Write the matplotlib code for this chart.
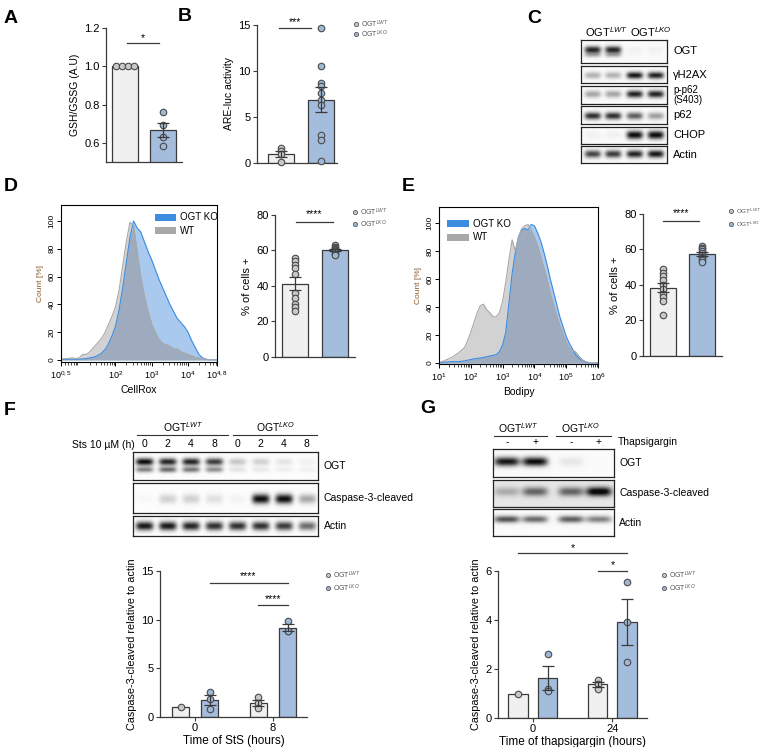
import numpy as np
import matplotlib
matplotlib.use('Agg')
from matplotlib import pyplot as plt
from matplotlib.lines import Line2D
from matplotlib.patches import Rectangle

plt.rcParams['font.family'] = ['Liberation Sans', 'DejaVu Sans']
plt.rcParams['mathtext.fontset'] = 'custom'
plt.rcParams['mathtext.rm'] = 'Liberation Sans'
plt.rcParams['mathtext.it'] = 'Liberation Sans:italic'
plt.rcParams['mathtext.bf'] = 'Liberation Sans:bold'

# ---------------- data ----------------
# A: GSH/GSSG
a_wt = [1.0, 1.0, 1.0, 1.0]
a_ko = [0.76, 0.695, 0.63, 0.585]
# B: ARE-luc
b_wt = [1.6, 1.3, 1.0, 0.1]
b_ko = [14.7, 10.55, 8.75, 8.4, 7.6, 6.9, 6.3, 3.05, 2.45, 0.2]
# D / E: % of cells +
d_wt = [56, 54, 52, 50, 47, 36, 33, 30, 28, 26]
d_ko = [63, 62, 61.5, 61, 60.5, 60, 59.5, 59, 58, 57.5]
e_wt = [49, 47, 45, 43, 40, 38, 35, 33, 31, 23]
e_ko = [62, 61, 60, 59, 58, 57, 56, 55, 54, 53]

# D histogram (CellRox), log10 fluorescence
d_logx = [0.5, 0.6, 0.7, 0.8, 0.9, 1.0, 1.1, 1.2, 1.3, 1.4, 1.5, 1.6, 1.7, 1.8, 1.9,
          2.0, 2.1, 2.2, 2.3, 2.4, 2.5, 2.6, 2.7, 2.8, 2.9, 3.0, 3.1, 3.2, 3.3, 3.4,
          3.5, 3.6, 3.7, 3.8, 3.9, 4.0, 4.1, 4.2, 4.3, 4.4, 4.5, 4.6, 4.7, 4.8]
d_hist_wt = [0.5, 1, 1, 1.5, 1, 1.5, 4, 4, 6, 9, 12, 15, 19, 25, 31,
             38, 50, 68, 85, 99, 97, 78, 60, 46, 35, 26, 20, 15, 12, 11,
             10, 8, 8, 6, 5, 4, 3, 2, 1.5, 1, 0.5, 0, 0, 0]
d_hist_ko = [0, 0.5, 0.5, 0.5, 0.5, 0.5, 0.7, 1, 1.5, 2, 3, 4.5, 7, 11, 17,
             24, 36, 52, 70, 88, 100, 95, 92, 85, 78, 72, 65, 58, 52, 46,
             40, 35, 30, 27, 24, 20, 14, 9, 4, 1.5, 0.5, 0, 0, 0]
# E histogram (Bodipy)
e_logx = [1.0, 1.1, 1.2, 1.3, 1.4, 1.5, 1.6, 1.7, 1.8, 1.9, 2.0, 2.1, 2.2, 2.3, 2.4,
          2.5, 2.6, 2.7, 2.8, 2.9, 3.0, 3.1, 3.2, 3.3, 3.4, 3.5, 3.6, 3.7, 3.8, 3.9,
          4.0, 4.1, 4.2, 4.3, 4.4, 4.5, 4.6, 4.7, 4.8, 4.9, 5.0, 5.1, 5.2, 5.3, 5.4,
          5.5, 5.6, 5.7, 5.8, 5.9, 6.0]
e_hist_wt = [0.5, 1, 2, 3, 4, 5.5, 7, 9, 11, 16, 22, 29, 36, 41, 42,
             38, 36, 33, 33, 36, 44, 58, 74, 88, 80, 90, 96, 98, 99, 95,
             90, 84, 76, 68, 60, 50, 42, 34, 27, 21, 15, 11, 9, 8, 5,
             2.5, 1, 0.5, 0, 0, 0]
e_hist_ko = [0, 0.5, 0.5, 0.8, 1, 1, 1, 1.2, 1.5, 2, 2.5, 3, 3.3, 3.6, 4,
             4.5, 5, 5.5, 6, 8, 13, 22, 43, 64, 79, 90, 95, 96, 95, 99,
             98, 93, 87, 79, 70, 60, 51, 42, 33, 26, 19, 14, 10, 6, 3.5,
             2, 1, 0, 0, 0, 0]

# F: caspase-3 cleaved / actin, StS
f_times = ['0', '8']
f_wt = [[1.0], [2.05, 1.4, 0.9]]
f_ko = [[2.6, 1.9, 0.85], [9.85, 8.8, 8.85]]
# G: thapsigargin
g_times = ['0', '24']
g_wt = [[1.0], [1.55, 1.4, 1.2]]
g_ko = [[2.6, 1.2, 1.1], [5.55, 3.9, 2.3]]

# blot band intensities (0 = none, 1 = saturated)
c_ogt = [0.9, 0.9, 0.04, 0.04]
c_h2ax = [0.3, 0.3, 0.95, 0.9]
c_pp62 = [0.35, 0.35, 0.9, 0.9]
c_p62 = [0.85, 0.85, 0.65, 0.38]
c_chop = [0.04, 0.04, 1.0, 1.0]
c_actin = [0.75, 0.8, 0.9, 0.95]

f_lanes = ['0', '2', '4', '8', '0', '2', '4', '8']
f_ogt_up = [1.0, 0.9, 0.9, 0.8, 0.22, 0.18, 0.1, 0.05]
f_ogt_lo = [0.5, 0.6, 0.55, 0.45, 0.1, 0.08, 0.06, 0.05]
f_casp = [0.02, 0.18, 0.18, 0.12, 0.04, 1.0, 1.0, 0.35]
f_actin = [0.95, 0.95, 0.9, 0.85, 0.85, 0.85, 0.8, 0.6]

g_lanes = ['-', '+', '-', '+']
g_ogt = [0.95, 1.0, 0.08, 0.0]
g_casp = [0.25, 0.55, 0.55, 1.0]
g_actin = [0.7, 0.6, 0.65, 0.5]

WT_LBL = 'OGT$^{LWT}$'
KO_LBL = 'OGT$^{LKO}$'

# ---------------- style ----------------
WT_FILL, KO_FILL = '#f0f0f0', '#a4bddd'
WT_PT, KO_PT = '#c8c8c8', '#9fb8d8'
EDGE = '#3a3a3a'

W, H = 763, 747
fig = plt.figure(figsize=(W / 100, H / 100), dpi=100)


def px_axes(x0, y0, x1, y1):
    return fig.add_axes([x0 / W, 1 - y1 / H, (x1 - x0) / W, (y1 - y0) / H])


def ftext(x, y, s, **kw):
    fig.text(x / W, 1 - y / H, s, **kw)


def panel(x, y, s):
    ftext(x, y, s, fontsize=14, fontweight='bold', va='top', ha='left')


def style_bar_axes(ax):
    for sp in ['top', 'right']:
        ax.spines[sp].set_visible(False)
    for sp in ['left', 'bottom']:
        ax.spines[sp].set_color(EDGE)
        ax.spines[sp].set_linewidth(0.9)
    ax.tick_params(axis='y', labelsize=8, length=3, width=0.8, color=EDGE, pad=1.5)
    ax.tick_params(axis='x', labelsize=8, length=3, width=0.8, color=EDGE, pad=1.5)


def sem(v):
    v = np.asarray(v, float)
    return v.std(ddof=1) / np.sqrt(len(v)) if len(v) > 1 else 0.0


def bar_group(ax, x, vals, fill, pt, width, spread=None):
    m = np.mean(vals)
    ax.bar(x, m, width=width, color=fill, edgecolor=EDGE, linewidth=0.9, zorder=2)
    xs = np.full(len(vals), float(x)) if spread is None else x + spread
    ax.scatter(xs, vals, s=22, facecolor=pt, edgecolor='#4a4a4a', linewidth=0.8, zorder=3,
               clip_on=False)
    e = sem(vals)
    if e > 0:
        ax.errorbar(x, m, yerr=e, color=EDGE, capsize=4, capthick=0.9, elinewidth=0.9, zorder=4)


def sig(ax, x0, x1, y, stars, dy):
    ax.plot([x0, x1], [y, y], color=EDGE, lw=0.9, clip_on=False)
    ax.text((x0 + x1) / 2, y + dy, stars, ha='center', va='bottom', fontsize=7.5, clip_on=False)


def small_legend(x, y, gap=12, fs=5):
    for i, (lbl, c) in enumerate([(WT_LBL, WT_PT), (KO_LBL, KO_PT)]):
        yy = y + i * gap
        fig.add_artist(Line2D([x / W], [1 - yy / H], marker='o', ms=3, mfc=c, mec='#555555',
                              mew=0.6, transform=fig.transFigure))
        ftext(x + 5, yy, lbl, fontsize=fs, va='center', ha='left', color='#555555')


def blot(ax, lanes, bands, bg=0.0, wx=0.36):
    # bands: list of (intensities, y centre, half height)
    n = len(lanes)
    nx, ny = 60 * n, 40
    xs = (np.arange(nx) + 0.5) / nx * n
    ys = (np.arange(ny) + 0.5) / ny
    dark = np.full((ny, nx), bg)
    for inten, yc, wy in bands:
        for lx, v in zip(lanes, inten):
            prof_x = np.exp(-np.abs((xs - lx) / wx) ** 4)
            prof_y = np.exp(-((ys - yc) / wy) ** 2)
            dark += v * prof_y[:, None] * prof_x[None, :]
    img = 1 - np.clip(dark, 0, 1) * 0.95
    ax.imshow(img, cmap='gray', vmin=0, vmax=1, extent=(0, n, 0, 1), origin='lower',
              aspect='auto', interpolation='bilinear')
    ax.set_xlim(0, n)
    ax.set_ylim(0, 1)
    ax.set_xticks([])
    ax.set_yticks([])
    for sp in ax.spines.values():
        sp.set_color('#222222')
        sp.set_linewidth(0.9)


# ---------------- A ----------------
panel(4, 10, 'A')
ax = px_axes(106, 28, 182, 162)
style_bar_axes(ax)
bar_group(ax, 0, a_wt, WT_FILL, WT_PT, 0.66, spread=np.linspace(-0.24, 0.24, len(a_wt)))
bar_group(ax, 1, a_ko, KO_FILL, KO_PT, 0.66)
ax.set_xlim(-0.5, 1.5)
ax.set_ylim(0.5, 1.2)
ax.set_yticks([0.6, 0.8, 1.0, 1.2])
ax.set_yticklabels(['0.6', '0.8', '1.0', '1.2'])
ax.set_xticks([])
ax.set_ylabel('GSH/GSSG (A.U)', fontsize=7.5, labelpad=3)
sig(ax, 0.05, 0.9, 1.12, '*', 0.0)

# ---------------- B ----------------
panel(178, 8, 'B')
ax = px_axes(257, 25, 337, 163)
style_bar_axes(ax)
bar_group(ax, 0, b_wt, WT_FILL, WT_PT, 0.65)
bar_group(ax, 1, b_ko, KO_FILL, KO_PT, 0.65)
ax.set_xlim(-0.6, 1.4)
ax.set_ylim(0, 15)
ax.set_yticks([0, 5, 10, 15])
ax.set_xticks([])
ax.set_ylabel('ARE-luc activity', fontsize=7.5, labelpad=3)
sig(ax, -0.05, 0.75, 14.7, '***', 0.1)
small_legend(356, 24, 10)

# ---------------- C ----------------
panel(527, 10, 'C')
ftext(607, 32, WT_LBL, fontsize=8, ha='center', va='center')
ftext(651, 32, KO_LBL, fontsize=8, ha='center', va='center')
c_rows = [
    (40, 63, 'OGT', [(c_ogt, 0.55, 0.15), ([v * 0.3 for v in c_ogt], 0.33, 0.1)]),
    (66, 83, '\u03b3H2AX', [(c_h2ax, 0.45, 0.2)]),
    (86, 104, 'p-p62\n(S403)', [(c_pp62, 0.55, 0.2)]),
    (106, 124, 'p62', [(c_p62, 0.45, 0.2)]),
    (127, 144, 'CHOP', [(c_chop, 0.53, 0.24)]),
    (146, 163, 'Actin', [(c_actin, 0.53, 0.22)]),
]
for y0, y1, name, bands in c_rows:
    ax = px_axes(581, y0, 667, y1)
    blot(ax, [0.55, 1.5, 2.5, 3.48], bands, bg=0.02, wx=0.38)
    fs = 7 if 'p-p62' in name else 8
    ftext(673, (y0 + y1) / 2, name, fontsize=fs, va='center', ha='left', linespacing=1.1)

# ---------------- D ----------------
panel(4, 178, 'D')


def histogram(ax, logx, wt, ko, xlim, ticks, ticklabels, ylim, xlabel, legend_xy):
    x = 10 ** np.asarray(logx, float)
    wt = np.asarray(wt, float)
    ko = np.asarray(ko, float)
    ax.fill_between(x, 0, wt, color='#d2d2d2', lw=0)
    ax.fill_between(x, 0, ko, color='#a9c9ee', lw=0)
    ax.fill_between(x, 0, np.minimum(wt, ko), color='#9eabbf', lw=0)
    ax.plot(x, ko, color='#3c8ce0', lw=0.8)
    ax.plot(x, wt, color='#a8a8a8', lw=0.8)
    ax.set_xscale('log')
    ax.set_xlim(*xlim)
    ax.set_ylim(*ylim)
    ax.set_xticks(ticks)
    ax.set_xticklabels(ticklabels)
    ax.set_yticks([0, 20, 40, 60, 80, 100])
    ax.tick_params(axis='y', labelsize=6, length=3, width=0.7, labelrotation=90, pad=1)
    ax.tick_params(axis='x', labelsize=6.5, length=3, width=0.7, pad=2)
    ax.tick_params(axis='x', which='minor', length=1.8, width=0.5)
    for lab in ax.get_yticklabels():
        lab.set_va('center')
    ax.set_ylabel('Count [%]', fontsize=6, color='#8a5a2a', labelpad=3)
    ax.set_xlabel(xlabel, fontsize=7.5, labelpad=3)
    for sp in ax.spines.values():
        sp.set_linewidth(0.8)
    lx, ly = legend_xy
    for i, (lbl, c) in enumerate([('OGT KO', '#3c8ce0'), ('WT', '#a8a8a8')]):
        ax.add_patch(Rectangle((lx, ly - i * 0.085), 0.14, 0.045, transform=ax.transAxes,
                               color=c, lw=0))
        ax.text(lx + 0.165, ly - i * 0.085 + 0.022, lbl, transform=ax.transAxes,
                fontsize=7, va='center', ha='left')


ax = px_axes(61, 205, 217, 362)
histogram(ax, d_logx, d_hist_wt, d_hist_ko, (10 ** 0.5, 10 ** 4.8),
          [10 ** 0.5, 1e2, 1e3, 1e4, 10 ** 4.8],
          ['10$^{0,5}$', '10$^{2}$', '10$^{3}$', '10$^{4}$', '10$^{4,8}$'],
          (-1.5, 111.5), 'CellRox', (0.6, 0.9))

ax = px_axes(275, 215, 355, 357)
style_bar_axes(ax)
bar_group(ax, 0, d_wt, WT_FILL, WT_PT, 0.65)
bar_group(ax, 1, d_ko, KO_FILL, KO_PT, 0.65)
ax.set_xlim(-0.5, 1.5)
ax.set_ylim(0, 80)
ax.set_yticks([0, 20, 40, 60, 80])
ax.set_xticks([])
ax.set_ylabel('% of cells +', fontsize=8, labelpad=3)
sig(ax, 0.02, 0.95, 76, '****', 1.5)
small_legend(355, 212, 12)

# ---------------- E ----------------
panel(402, 178, 'E')
ax = px_axes(439, 207, 598, 364)
histogram(ax, e_logx, e_hist_wt, e_hist_ko, (1e1, 1e6),
          [1e1, 1e2, 1e3, 1e4, 1e5, 1e6],
          ['10$^{1}$', '10$^{2}$', '10$^{3}$', '10$^{4}$', '10$^{5}$', '10$^{6}$'],
          (-0.7, 111.4), 'Bodipy', (0.05, 0.87))

ax = px_axes(643, 214, 722, 356)
style_bar_axes(ax)
bar_group(ax, 0, e_wt, WT_FILL, WT_PT, 0.65)
bar_group(ax, 1, e_ko, KO_FILL, KO_PT, 0.65)
ax.set_xlim(-0.5, 1.5)
ax.set_ylim(0, 80)
ax.set_yticks([0, 20, 40, 60, 80])
ax.set_xticks([])
ax.set_ylabel('% of cells +', fontsize=8, labelpad=3)
sig(ax, 0.0, 0.93, 76, '****', 1.5)
small_legend(731, 211, 13, fs=4.5)

# ---------------- F ----------------
panel(4, 402, 'F')
f_lane_x = [i + 0.5 for i in range(8)]
f_rows = [
    (452, 480, 'OGT', [(f_ogt_up, 0.65, 0.13), (f_ogt_lo, 0.37, 0.1)]),
    (483, 513, 'Caspase-3-cleaved', [(f_casp, 0.47, 0.16)]),
    (516, 536, 'Actin', [(f_actin, 0.5, 0.22)]),
]
for i, (y0, y1, name, bands) in enumerate(f_rows):
    ax = px_axes(133, y0, 318, y1)
    blot(ax, f_lane_x, bands, bg=0.01, wx=0.38)
    ftext(324, (y0 + y1) / 2, name, fontsize=7.5, va='center', ha='left')
    if i == 0:
        for lx, lbl in zip(f_lane_x, f_lanes):
            ax.text(lx, 1.12, lbl, ha='center', va='bottom', fontsize=7.5,
                    transform=ax.get_xaxis_transform())
ftext(135, 445, 'Sts 10 \u00b5M (h)', fontsize=7.5, ha='right', va='center')
ftext(183, 427, WT_LBL, fontsize=7.5, ha='center', va='center')
ftext(275, 427, KO_LBL, fontsize=7.5, ha='center', va='center')
for x0, x1 in [(137, 228), (233, 317)]:
    fig.add_artist(Line2D([x0 / W, x1 / W], [1 - 435 / H] * 2, color='#333333', lw=0.8,
                          transform=fig.transFigure))


def quant(ax, times, wt, ko, d, width, ymax, yticks, xlabel):
    style_bar_axes(ax)
    for g in range(len(times)):
        bar_group(ax, g - d, wt[g], WT_FILL, WT_PT, width)
        bar_group(ax, g + d, ko[g], KO_FILL, KO_PT, width)
    ax.set_ylim(0, ymax)
    ax.set_yticks(yticks)
    ax.set_xticks(range(len(times)))
    ax.set_xticklabels(times)
    ax.set_xlabel(xlabel, fontsize=8.5, labelpad=1)
    ax.set_ylabel('Caspase-3-cleaved relative to actin', fontsize=7.8, labelpad=3)


ax = px_axes(160, 571, 307, 717)
quant(ax, f_times, f_wt, f_ko, 0.186, 0.22, 15, [0, 5, 10, 15], 'Time of StS (hours)')
ax.set_xlim(-0.449, 1.436)
sig(ax, 0.186, 1.186, 13.8, '****', 0.15)
sig(ax, 0.814, 1.186, 11.5, '****', 0.15)
small_legend(328, 575, 13)

# ---------------- G ----------------
panel(420, 400, 'G')
g_lane_x = [0.46, 1.39, 2.58, 3.5]
g_rows = [
    (449, 477, 'OGT', [(g_ogt, 0.55, 0.16)], 0.02),
    (480, 507, 'Caspase-3-cleaved', [(g_casp, 0.57, 0.17)], 0.1),
    (509, 536, 'Actin', [(g_actin, 0.62, 0.13)], 0.02),
]
for i, (y0, y1, name, bands, bg) in enumerate(g_rows):
    ax = px_axes(493, y0, 614, y1)
    blot(ax, g_lane_x, bands, bg=bg, wx=0.42)
    ftext(619, (y0 + y1) / 2, name, fontsize=7.5, va='center', ha='left')
    if i == 0:
        for lx, lbl in zip(g_lane_x, g_lanes):
            ax.text(lx, 1.08, lbl, ha='center', va='bottom', fontsize=7.5,
                    transform=ax.get_xaxis_transform())
ftext(618, 442, 'Thapsigargin', fontsize=7.5, ha='left', va='center')
ftext(518, 428, WT_LBL, fontsize=7.5, ha='center', va='center')
ftext(580, 428, KO_LBL, fontsize=7.5, ha='center', va='center')
for x0, x1 in [(494, 547), (556, 611)]:
    fig.add_artist(Line2D([x0 / W, x1 / W], [1 - 436 / H] * 2, color='#333333', lw=0.8,
                          transform=fig.transFigure))

ax = px_axes(498, 571, 647, 718)
quant(ax, g_times, g_wt, g_ko, 0.185, 0.245, 6, [0, 2, 4, 6], 'Time of thapsigargin (hours)')
ax.set_xlim(-0.436, 1.433)
sig(ax, -0.185, 1.185, 6.73, '*', 0.02)
sig(ax, 0.815, 1.185, 6.0, '*', 0.02)
small_legend(664, 575, 13)

fig.savefig('out.png', dpi=100)
